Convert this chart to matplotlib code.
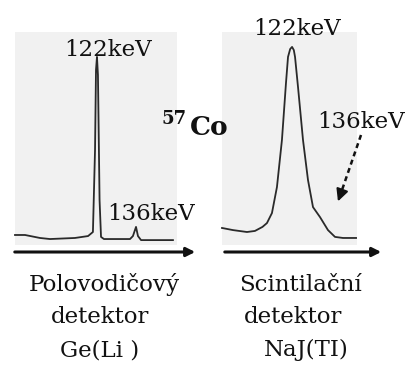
import matplotlib
matplotlib.use("Agg")
import matplotlib.pyplot as plt
from matplotlib.patches import FancyArrowPatch
from matplotlib.lines import Line2D

# Ge(Li) spectrum (channel, relative counts)
ge_x = [0, 6.2, 15.4, 21.6, 37.0, 45.1, 48.1, 49.4, 50.0, 50.6, 51.2, 52.2, 53.1, 54.9,
        71.0, 72.8, 74.7, 75.9, 77.8, 97.5]
ge_y = [4.7, 4.7, 3.3, 2.8, 3.3, 4.2, 6.1, 44.6, 82.2, 88.3, 79.8, 21.1, 3.8, 2.8,
        2.8, 4.2, 8.5, 4.2, 2.3, 2.3]

# NaI(Tl) spectrum (channel, relative counts)
nai_x = [0, 8.1, 18.5, 24.4, 30.0, 33.3, 37.0, 40.7, 44.4, 47.4, 48.9, 50.5, 51.9, 53.2,
         54.1, 56.3, 60.0, 63.7, 67.4, 72.6, 78.5, 83.7, 89.6, 99.3]
nai_y = [8.0, 7.0, 6.1, 6.6, 8.5, 10.3, 15.0, 27.2, 49.3, 76.1, 88.3, 92.0, 93.0, 91.5,
         88.3, 74.2, 49.3, 30.5, 17.8, 13.1, 7.0, 3.8, 3.3, 3.3]

peak_label = "122keV"
second_label = "136keV"
isotope_mass = "57"
isotope_sym = "Co"
left_caption = ["Polovodičový", "detektor", "Ge(Li )"]
right_caption = ["Scintilační", "detektor", "NaJ(TI)"]

W, H = 411, 367
FONT = "DejaVu Serif"
TXT = "#111111"


def fx(x):
    return x / W


def fy(y):
    return 1 - y / H


fig = plt.figure(figsize=(W / 100, H / 100), dpi=100)
fig.patch.set_facecolor("white")

ax1 = fig.add_axes([fx(15), fy(245), 162 / W, 213 / H])
ax2 = fig.add_axes([fx(222), fy(245), 135 / W, 213 / H])
for ax in (ax1, ax2):
    ax.set_facecolor("#f1f1f1")
    ax.set_xlim(0, 100)
    ax.set_ylim(0, 100)
    for s in ax.spines.values():
        s.set_visible(False)
    ax.set_xticks([])
    ax.set_yticks([])

ax1.plot(ge_x, ge_y, color="#2a2a2a", lw=1.3, clip_on=False, solid_joinstyle="round")
ax2.plot(nai_x, nai_y, color="#2a2a2a", lw=1.3, clip_on=False, solid_joinstyle="round")

# energy axes arrows
for x0, x1 in ((12, 198), (222, 384)):
    fig.add_artist(FancyArrowPatch(
        (fx(x0), fy(252)), (fx(x1), fy(252)), transform=fig.transFigure,
        arrowstyle="-|>", mutation_scale=13, lw=2.2, color="#111111"))

# 136 keV arrow (NaI): dashed shaft + solid head
fig.add_artist(Line2D([fx(361), fx(342)], [fy(135), fy(190)], transform=fig.transFigure,
                      color="#111111", lw=1.8, linestyle=(0, (2, 1.5))))
fig.add_artist(FancyArrowPatch(
    (fx(342.5), fy(189)), (fx(337), fy(204)), transform=fig.transFigure,
    arrowstyle="-|>", mutation_scale=18, lw=1.5, color="#111111"))

fs = 16.5
fig.text(fx(108), fy(56), peak_label, ha="center", va="baseline", fontsize=fs,
         family=FONT, color=TXT)
fig.text(fx(297), fy(35), peak_label, ha="center", va="baseline", fontsize=fs,
         family=FONT, color=TXT)
fig.text(fx(151), fy(220), second_label, ha="center", va="baseline", fontsize=fs,
         family=FONT, color=TXT)
fig.text(fx(361), fy(128), second_label, ha="center", va="baseline", fontsize=fs,
         family=FONT, color=TXT)

fig.text(fx(161), fy(124), isotope_mass, ha="left", va="baseline", fontsize=13,
         family=FONT, weight="bold", color=TXT)
fig.text(fx(190), fy(135), isotope_sym, ha="left", va="baseline", fontsize=19,
         family=FONT, weight="bold", color=TXT)

ys = [291, 323, 356]
lx = [104, 100, 100]
rx = [300, 293, 306]
for t, y, x in zip(left_caption, ys, lx):
    fig.text(fx(x), fy(y), t, ha="center", va="baseline", fontsize=fs,
             family=FONT, color=TXT)
for t, y, x in zip(right_caption, ys, rx):
    fig.text(fx(x), fy(y), t, ha="center", va="baseline", fontsize=fs,
             family=FONT, color=TXT)

fig.savefig("out.png", dpi=100, facecolor="white")
